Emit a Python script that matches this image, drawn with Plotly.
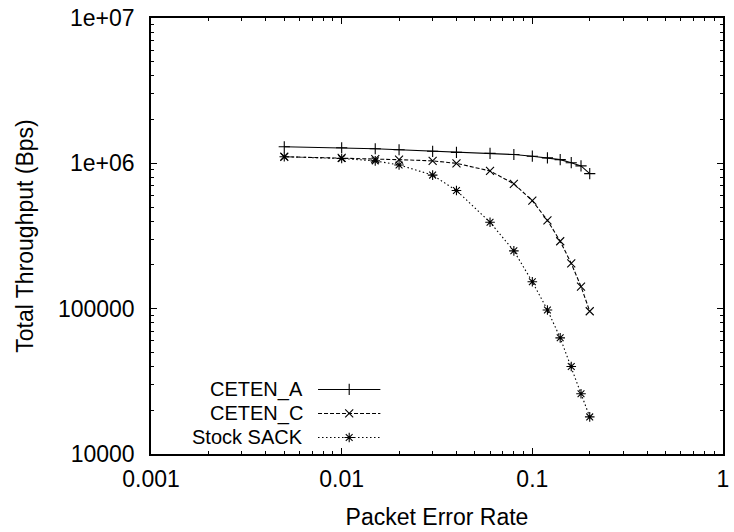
import plotly.graph_objects as go

# Packet error rate (x) and total throughput in bytes/s (y) for each scheme
per = [0.005, 0.01, 0.015, 0.02, 0.03, 0.04, 0.06, 0.08, 0.1, 0.12, 0.14, 0.16, 0.18, 0.2]
ceten_a = [1.30e6, 1.28e6, 1.26e6, 1.24e6, 1.21e6, 1.19e6, 1.17e6, 1.15e6, 1.12e6,
           1.09e6, 1.06e6, 1.01e6, 0.96e6, 0.85e6]
ceten_c = [1.11e6, 1.09e6, 1.07e6, 1.06e6, 1.04e6, 1.00e6, 0.886e6, 0.723e6, 0.553e6,
           0.405e6, 0.291e6, 0.205e6, 0.142e6, 0.096e6]
stock_sack = [1.11e6, 1.08e6, 1.04e6, 0.975e6, 0.83e6, 0.65e6, 0.393e6, 0.25e6, 0.153e6,
              0.098e6, 0.063e6, 0.040e6, 0.026e6, 0.018e6]

series_names = ["CETEN_A", "CETEN_C", "Stock SACK"]

x_tickvals = [0.001, 0.01, 0.1, 1]
x_ticktext = ["0.001", "0.01", "0.1", "1"]
y_tickvals = [1e4, 1e5, 1e6, 1e7]
y_ticktext = ["10000", "100000", "1e+06", "1e+07"]

FONT = "Liberation Sans, Arial, Helvetica, sans-serif"
FS = 23
KEY_FS = 20
INK = "#000000"

styles = [
    dict(dash="solid", symbol="cross-thin-open"),
    dict(dash="4px,2px", symbol="x-thin-open"),
    dict(dash="1.5px,2.5px", symbol="asterisk-open"),
]

fig = go.Figure()

for name, ys, st in zip(series_names, [ceten_a, ceten_c, stock_sack], styles):
    fig.add_trace(go.Scatter(
        x=per, y=ys, name=name, mode="lines+markers", showlegend=False,
        line=dict(color=INK, width=1.1, dash=st["dash"]),
        marker=dict(symbol=st["symbol"], size=8, color=INK,
                    line=dict(color=INK, width=1.1)),
    ))

# gnuplot-style key: label right-aligned, sample line with a marker to its right
key_text_x = 0.268
key_line = (0.292, 0.401)
key_rows = [0.148, 0.093, 0.038]
for name, row, st in zip(series_names, key_rows, styles):
    fig.add_trace(go.Scatter(
        x=[key_line[0], key_line[1]], y=[row, row], mode="lines",
        xaxis="x2", yaxis="y2", showlegend=False, hoverinfo="skip",
        line=dict(color=INK, width=1.1, dash=st["dash"]),
    ))
    fig.add_trace(go.Scatter(
        x=[(key_line[0] + key_line[1]) / 2], y=[row], mode="markers",
        xaxis="x2", yaxis="y2", showlegend=False, hoverinfo="skip",
        marker=dict(symbol=st["symbol"], size=8, color=INK,
                    line=dict(color=INK, width=1.1)),
    ))
    fig.add_annotation(
        x=key_text_x, y=row, xref="paper", yref="paper",
        text=name, showarrow=False, xanchor="right", yanchor="middle",
        borderpad=0, font=dict(family=FONT, size=KEY_FS, color=INK),
    )

x_minor = [m * 10.0 ** e for e in range(-3, 0) for m in range(2, 10)]
y_minor = [m * 10.0 ** e for e in range(4, 7) for m in range(2, 10)]

axis_common = dict(
    type="log", showgrid=False, zeroline=False,
    showline=True, linecolor=INK, linewidth=1.5, mirror="allticks",
    ticks="inside", tickcolor=INK, tickwidth=1,
    tickfont=dict(family=FONT, size=FS, color=INK),
)

fig.update_layout(
    width=734, height=532,
    margin=dict(l=151, r=5, t=16, b=78),
    paper_bgcolor="white", plot_bgcolor="white",
    font=dict(family=FONT, size=FS, color=INK),
    xaxis=dict(
        **axis_common,
        range=[-3, 0], tickmode="array", tickvals=x_tickvals, ticktext=x_ticktext,
        ticklen=6, ticklabelstandoff=4,
        minor=dict(tickmode="array", tickvals=x_minor, ticks="inside",
                   ticklen=3, tickcolor=INK, tickwidth=1, showgrid=False),
        title=dict(text="Packet Error Rate", standoff=18,
                   font=dict(family=FONT, size=FS, color=INK)),
    ),
    yaxis=dict(
        **axis_common,
        range=[4, 7], tickmode="array", tickvals=y_tickvals, ticktext=y_ticktext,
        ticklen=6, ticklabelstandoff=10,
        minor=dict(tickmode="array", tickvals=y_minor, ticks="inside",
                   ticklen=3, tickcolor=INK, tickwidth=1, showgrid=False),
        title=dict(text="Total Throughput (Bps)", standoff=18,
                   font=dict(family=FONT, size=FS, color=INK)),
    ),
    xaxis2=dict(overlaying="x", range=[0, 1], visible=False, fixedrange=True),
    yaxis2=dict(overlaying="y", range=[0, 1], visible=False, fixedrange=True),
)

fig.write_html("out.html")
